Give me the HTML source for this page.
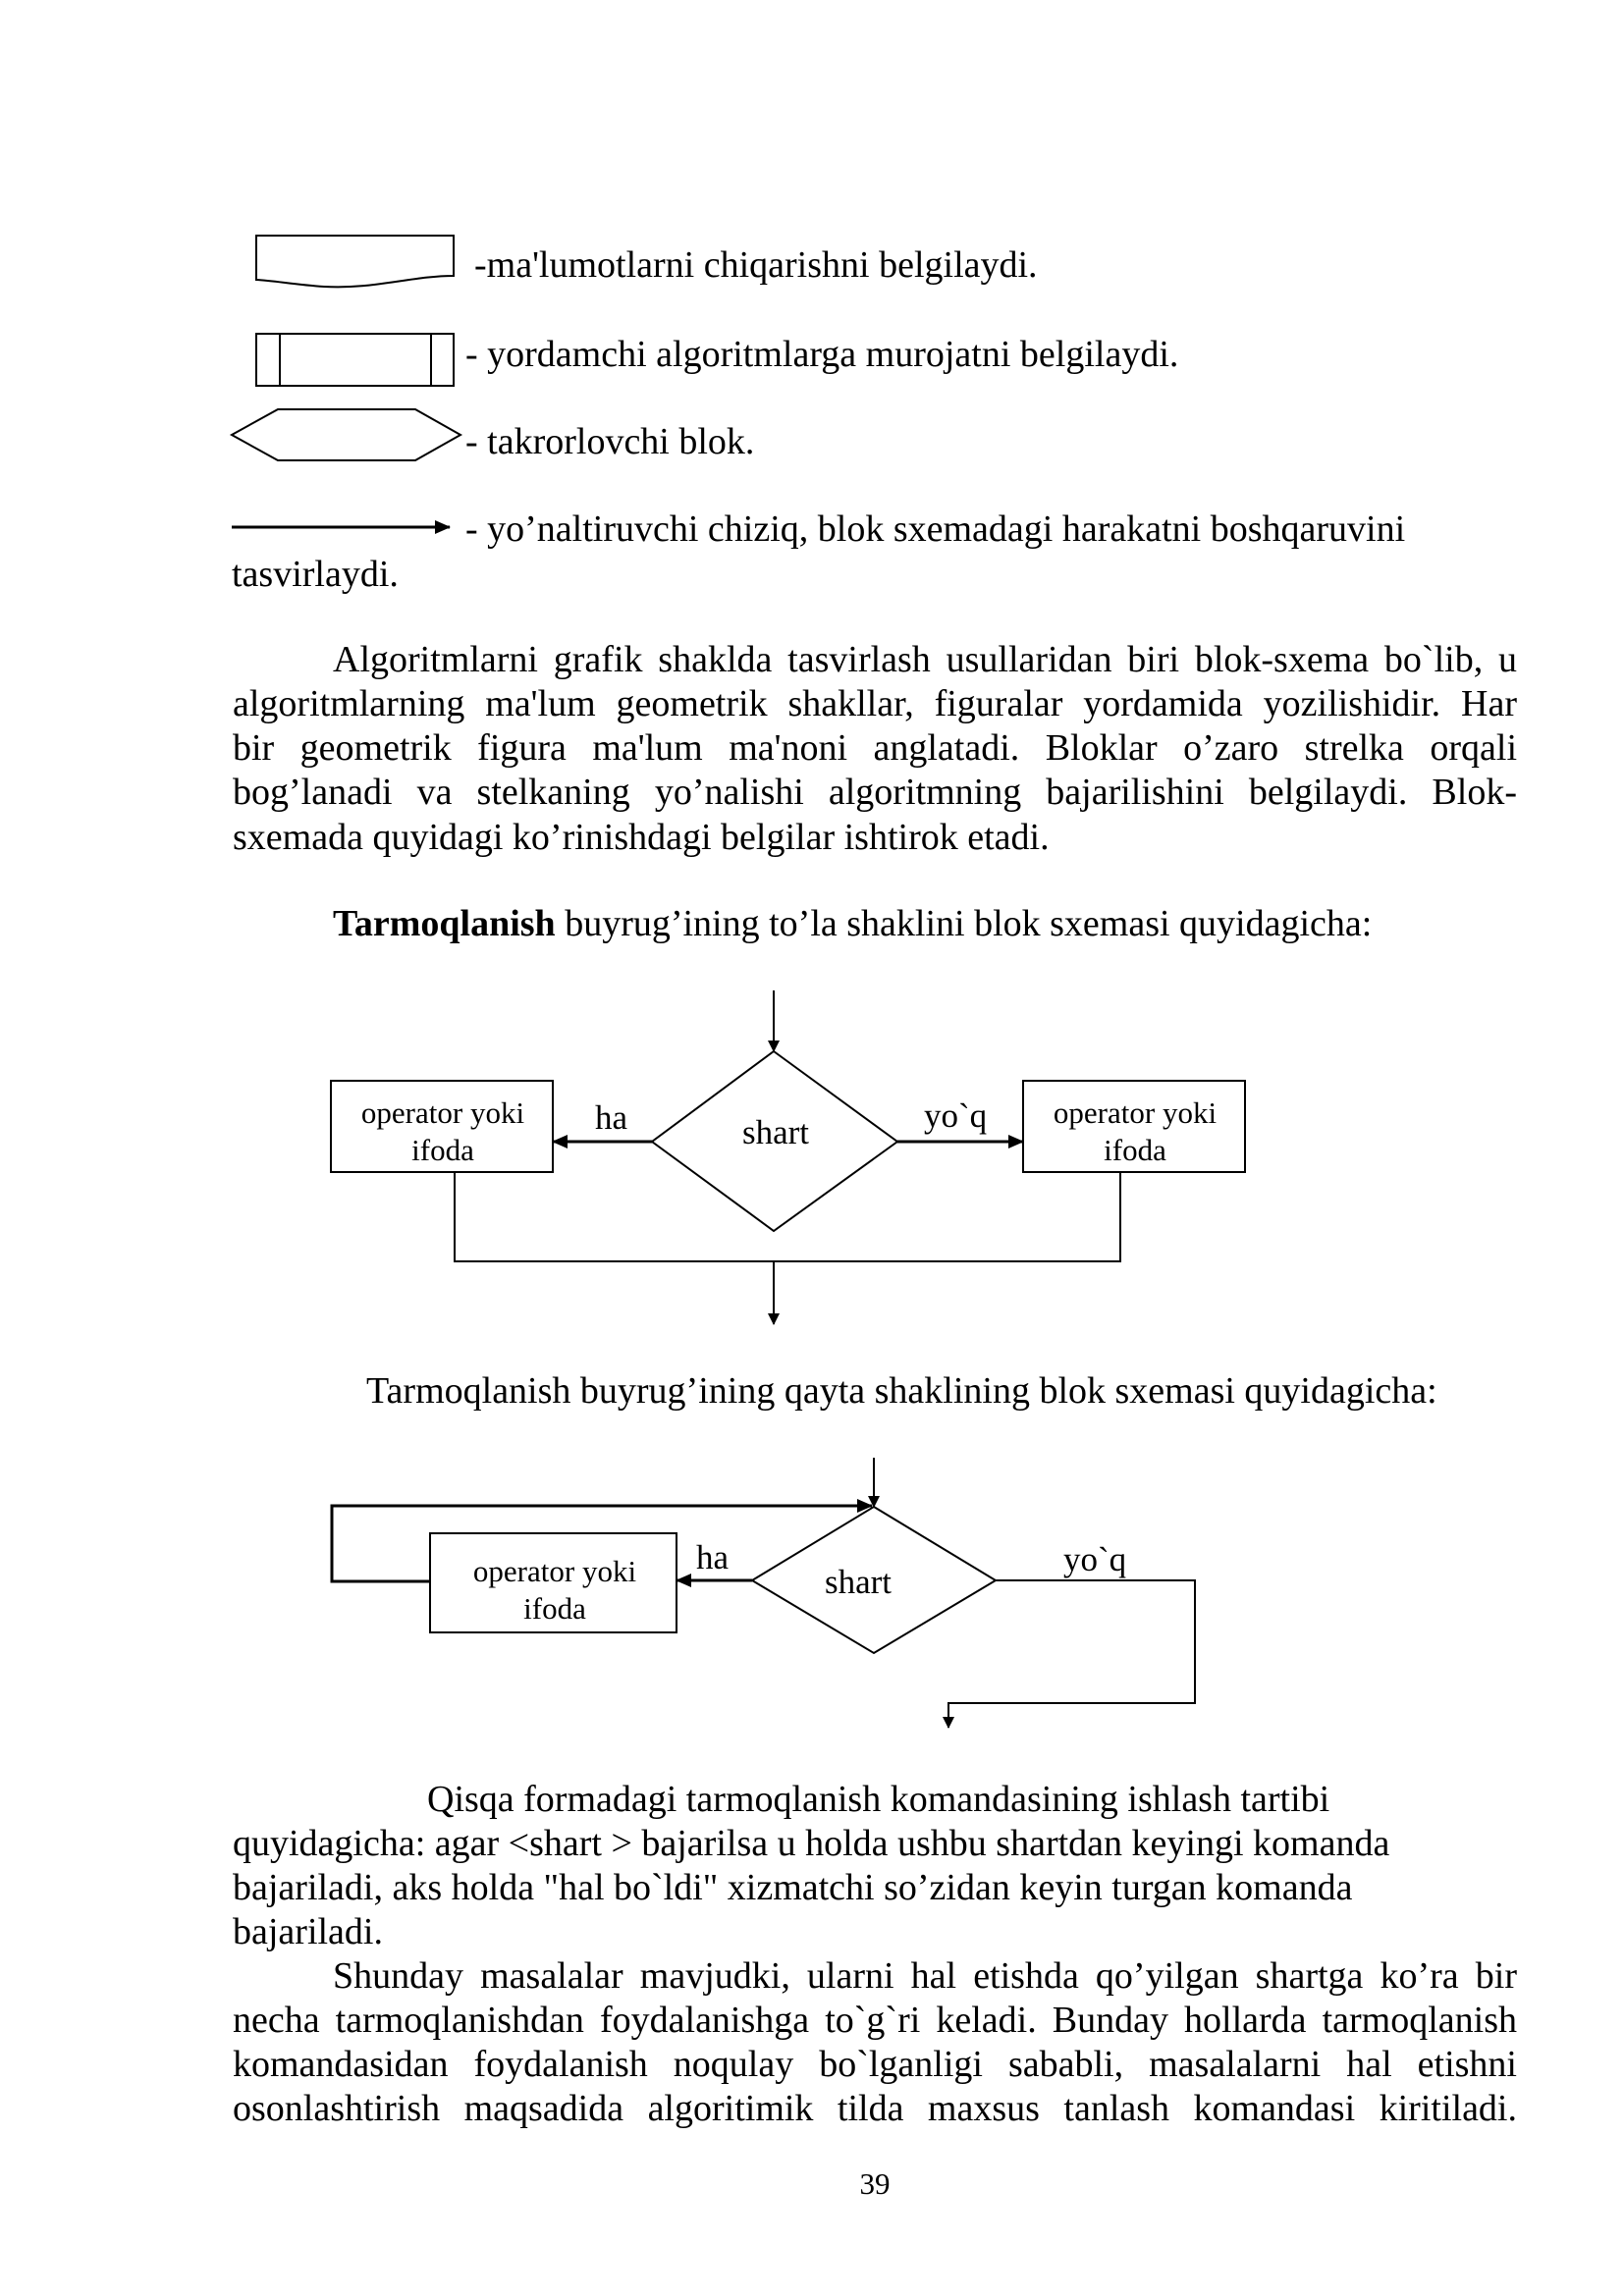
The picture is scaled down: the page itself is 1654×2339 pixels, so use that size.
<!DOCTYPE html>
<html><head><meta charset="utf-8"><style>
html,body{margin:0;padding:0;background:#fff;}
svg{display:block;position:absolute;left:0;top:0;}
text{font-family:"Liberation Serif",serif;fill:#000;}
.j{position:absolute;font-family:"Liberation Serif",serif;font-size:38px;line-height:45px;height:45px;white-space:nowrap;text-align:justify;text-align-last:justify;overflow:visible;}
</style></head><body>
<div style="position:relative;width:1654px;height:2339px;overflow:hidden;">
<svg width="1654" height="2339" viewBox="0 0 1654 2339" xmlns="http://www.w3.org/2000/svg">
<defs>
<marker id="ah" markerWidth="12" markerHeight="12" refX="11" refY="6" orient="auto" markerUnits="userSpaceOnUse" viewBox="0 0 12 12"><path d="M0,0 L12,6 L0,12 Z" fill="#000"/></marker>
<marker id="ahb" markerWidth="16" markerHeight="16" refX="15" refY="8" orient="auto" markerUnits="userSpaceOnUse" viewBox="0 0 16 16"><path d="M0,1 L16,8 L0,15 Z" fill="#000"/></marker>
</defs>
<g fill="none" stroke="#000" stroke-width="2">
<path d="M261,240 H462 V281 C420,281 380,295 330,292 C300,290 280,286 261,285 Z"/>
<rect x="261" y="340" width="201" height="53"/>
<line x1="285" y1="340" x2="285" y2="393"/>
<line x1="439" y1="340" x2="439" y2="393"/>
<path d="M283,417 H423 L469,443 L423,469 H283 L236,443 Z"/>
<line x1="236" y1="537" x2="458" y2="537" stroke-width="3" marker-end="url(#ahb)"/>
</g>
<g font-size="38">
<text x="483" y="282">-ma'lumotlarni chiqarishni belgilaydi.</text>
<text x="474" y="373">- yordamchi algoritmlarga murojatni belgilaydi.</text>
<text x="474" y="462">- takrorlovchi blok.</text>
<text x="474" y="551">- yo’naltiruvchi chiziq, blok sxemadagi harakatni boshqaruvini</text>
<text x="236" y="597">tasvirlaydi.</text>
<text x="237" y="865">sxemada quyidagi ko’rinishdagi belgilar ishtirok etadi.</text>
<text x="339" y="953"><tspan font-weight="bold">Tarmoqlanish</tspan> buyrug’ining to’la  shaklini blok sxemasi quyidagicha:</text>
<text x="373" y="1429">Tarmoqlanish buyrug’ining qayta  shaklining blok sxemasi quyidagicha:</text>
<text x="435" y="1845">Qisqa formadagi tarmoqlanish komandasining ishlash tartibi</text>
<text x="237" y="1890">quyidagicha: agar &lt;shart &gt;  bajarilsa u holda ushbu shartdan keyingi komanda</text>
<text x="237" y="1935">bajariladi,  aks holda "hal bo`ldi" xizmatchi so’zidan keyin turgan komanda</text>
<text x="237" y="1980">bajariladi.</text>
</g>
<text x="891" y="2245" font-size="31" text-anchor="middle" dy="-10">39</text>

<g fill="none" stroke="#000" stroke-width="2">
<line x1="788" y1="1009" x2="788" y2="1071" marker-end="url(#ah)"/>
<path d="M788,1071 L914,1163 L788,1254 L664,1163 Z"/>
<rect x="337" y="1101" width="226" height="93"/>
<rect x="1042" y="1101" width="226" height="93"/>
<line x1="664" y1="1163" x2="563" y2="1163" stroke-width="3" marker-end="url(#ahb)"/>
<line x1="914" y1="1163" x2="1042" y2="1163" stroke-width="3" marker-end="url(#ahb)"/>
<path d="M463,1194 V1285 H1141 V1194"/>
<line x1="788" y1="1285" x2="788" y2="1349" marker-end="url(#ah)"/>
</g>
<g font-size="35">
<text x="606" y="1150">ha</text>
<text x="941" y="1148">yo`q</text>
<text x="790" y="1165" text-anchor="middle">shart</text>
</g>
<g font-size="31" text-anchor="middle">
<text x="451" y="1144">operator yoki</text>
<text x="451" y="1182">ifoda</text>
<text x="1156" y="1144">operator yoki</text>
<text x="1156" y="1182">ifoda</text>
</g>

<g fill="none" stroke="#000" stroke-width="2">
<line x1="890" y1="1485" x2="890" y2="1535" marker-end="url(#ah)"/>
<path d="M890,1535 L1014,1610 L890,1684 L766,1610 Z"/>
<rect x="438" y="1562" width="251" height="101"/>
<path d="M438,1611 H338 V1534 H888" stroke-width="3" marker-end="url(#ahb)"/>
<line x1="766" y1="1610" x2="689" y2="1610" stroke-width="3" marker-end="url(#ahb)"/>
<path d="M1014,1610 H1217 V1735 H966 V1760" marker-end="url(#ah)"/>
</g>
<g font-size="35">
<text x="709" y="1598">ha</text>
<text x="1083" y="1600">yo`q</text>
<text x="874" y="1623" text-anchor="middle">shart</text>
</g>
<g font-size="31" text-anchor="middle">
<text x="565" y="1611">operator yoki</text>
<text x="565" y="1649">ifoda</text>
</g>
</svg>
<div class="j" style="left:339px;top:650px;width:1206px;">Algoritmlarni grafik shaklda tasvirlash usullaridan biri blok-sxema bo`lib, u</div>
<div class="j" style="left:237px;top:695px;width:1308px;">algoritmlarning ma'lum geometrik shakllar, figuralar yordamida yozilishidir. Har</div>
<div class="j" style="left:237px;top:740px;width:1308px;">bir geometrik figura ma'lum ma'noni anglatadi. Bloklar o’zaro strelka orqali</div>
<div class="j" style="left:237px;top:785px;width:1308px;">bog’lanadi va stelkaning yo’nalishi algoritmning bajarilishini belgilaydi. Blok-</div>
<div class="j" style="left:339px;top:1991px;width:1206px;">Shunday masalalar mavjudki, ularni hal etishda qo’yilgan shartga ko’ra  bir</div>
<div class="j" style="left:237px;top:2036px;width:1308px;">necha tarmoqlanishdan foydalanishga to`g`ri keladi. Bunday hollarda tarmoqlanish</div>
<div class="j" style="left:237px;top:2081px;width:1308px;">komandasidan foydalanish noqulay bo`lganligi sababli, masalalarni hal etishni</div>
<div class="j" style="left:237px;top:2126px;width:1308px;">osonlashtirish maqsadida algoritimik tilda maxsus tanlash komandasi kiritiladi.</div>
</div>
</body></html>
